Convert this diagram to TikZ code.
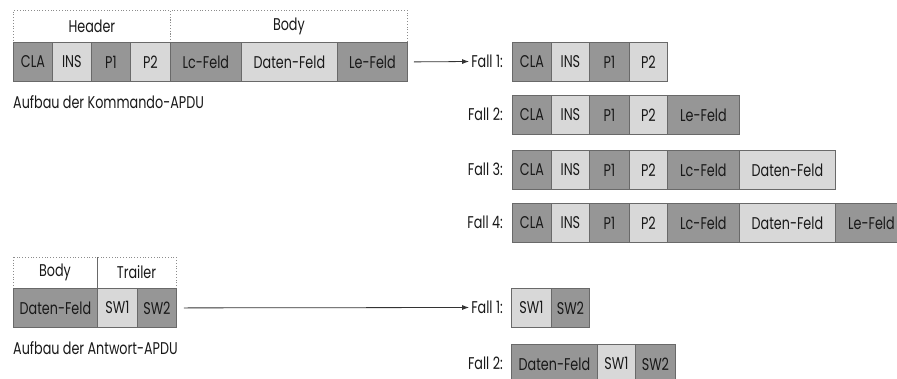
\documentclass[tikz,border=0pt]{standalone}
\usepackage{fontspec}
\setmainfont{Poppins}[FakeStretch=0.75]
\usetikzlibrary{arrows.meta,calc}
\definecolor{darkcell}{RGB}{150,150,150}
\definecolor{lightcell}{RGB}{216,216,216}
\definecolor{cellline}{RGB}{105,105,105}
\definecolor{dotline}{RGB}{140,140,140}
\begin{document}
\begin{tikzpicture}[x=1pt,y=-1pt,
  every node/.style={font=\fontsize{17}{19}\selectfont, text=black!90},
  cell/.style={draw=cellline, line width=0.8pt, anchor=north west, inner sep=0pt,
    minimum height=39pt},
  dk/.style={cell, fill=darkcell},
  lt/.style={cell, fill=lightcell},
  hdr/.style={draw=dotline, dotted, line width=0.8pt, anchor=north west, inner sep=0pt,
    minimum height=32pt},
  caselabel/.style={anchor=east, inner sep=0pt},
  caption/.style={anchor=west, inner sep=0pt},
  arr/.style={draw=black!80, line width=0.8pt, -{Latex[length=7pt,width=5pt]}}
]
\clip (0,0) rectangle (897,378);
\fill[white] (0,0) rectangle (897,378);

% ---- Kommando-APDU ----
\node[hdr, minimum width=157pt] (hHeader) at (13,10) {Header};
\node[hdr, minimum width=237pt] (hBody) at (170,10) {Body};
\node[dk, minimum width=39pt] (cCLA) at (13,42) {CLA};
\node[lt, minimum width=39pt] (cINS) at (52,42) {INS};
\node[dk, minimum width=39pt] (cP1) at (91,42) {P1};
\node[lt, minimum width=40pt] (cP2) at (130,42) {P2};
\node[dk, minimum width=71pt] (cLc) at (170,42) {Lc-Feld};
\node[lt, minimum width=96pt] (cDat) at (241,42) {Daten-Feld};
\node[dk, minimum width=70pt] (cLe) at (337,42) {Le-Feld};
\node[caption] (capK) at (13,102) {Aufbau der Kommando-APDU};

% ---- Fälle der Kommando-APDU ----
\foreach \r/\y in {1/42, 2/95, 3/150, 4/203} {
  \node[caselabel] (fk\r) at (503,\y+19.5) {Fall \r:};
  \node[dk, minimum width=39pt] (k\r CLA) at (512,\y) {CLA};
  \node[lt, minimum width=38pt] (k\r INS) at (551,\y) {INS};
  \node[dk, minimum width=40pt] (k\r P1) at (589,\y) {P1};
  \node[lt, minimum width=38pt] (k\r P2) at (629,\y) {P2};
}
\node[dk, minimum width=72pt] (k2Le) at (667,95) {Le-Feld};
\node[dk, minimum width=72pt] (k3Lc) at (667,150) {Lc-Feld};
\node[lt, minimum width=96pt] (k3Dat) at (739,150) {Daten-Feld};
\node[dk, minimum width=72pt] (k4Lc) at (667,203) {Lc-Feld};
\node[lt, minimum width=96pt] (k4Dat) at (739,203) {Daten-Feld};
\node[dk, minimum width=72pt] (k4Le) at (835,203) {Le-Feld};

\coordinate (kStart) at ($(cLe.east)+(6,0)$);
\draw[arr] (kStart) -- ($(fk1.west)+(-2,0)$);

% ---- Antwort-APDU ----
\draw[dotline, dotted, line width=0.8pt] (13,257) rectangle (176,288);
\draw[cellline, line width=0.8pt] (97,257) -- (97,288);
\node[anchor=center] (hRBody) at (55,272.5) {Body};
\node[anchor=center] (hRTrailer) at (136.5,272.5) {Trailer};
\node[dk, minimum width=84pt] (rDat) at (13,288) {Daten-Feld};
\node[lt, minimum width=40pt] (rSW1) at (97,288) {SW1};
\node[dk, minimum width=39pt] (rSW2) at (137,288) {SW2};
\node[caption] (capA) at (13,348) {Aufbau der Antwort-APDU};

% ---- Fälle der Antwort-APDU ----
\node[caselabel] (fa1) at (503,307.5) {Fall 1:};
\node[lt, minimum width=40pt] (a1SW1) at (511,288) {SW1};
\node[dk, minimum width=38pt] (a1SW2) at (551,288) {SW2};
\node[caselabel] (fa2) at (503,363.5) {Fall 2:};
\node[dk, minimum width=86pt] (a2Dat) at (511,344) {Daten-Feld};
\node[lt, minimum width=38pt] (a2SW1) at (597,344) {SW1};
\node[dk, minimum width=40pt] (a2SW2) at (635,344) {SW2};

\coordinate (aStart) at ($(rSW2.east)+(7,0)$);
\draw[arr] (aStart) -- ($(fa1.west)+(-2,0)$);
\end{tikzpicture}
\end{document}
